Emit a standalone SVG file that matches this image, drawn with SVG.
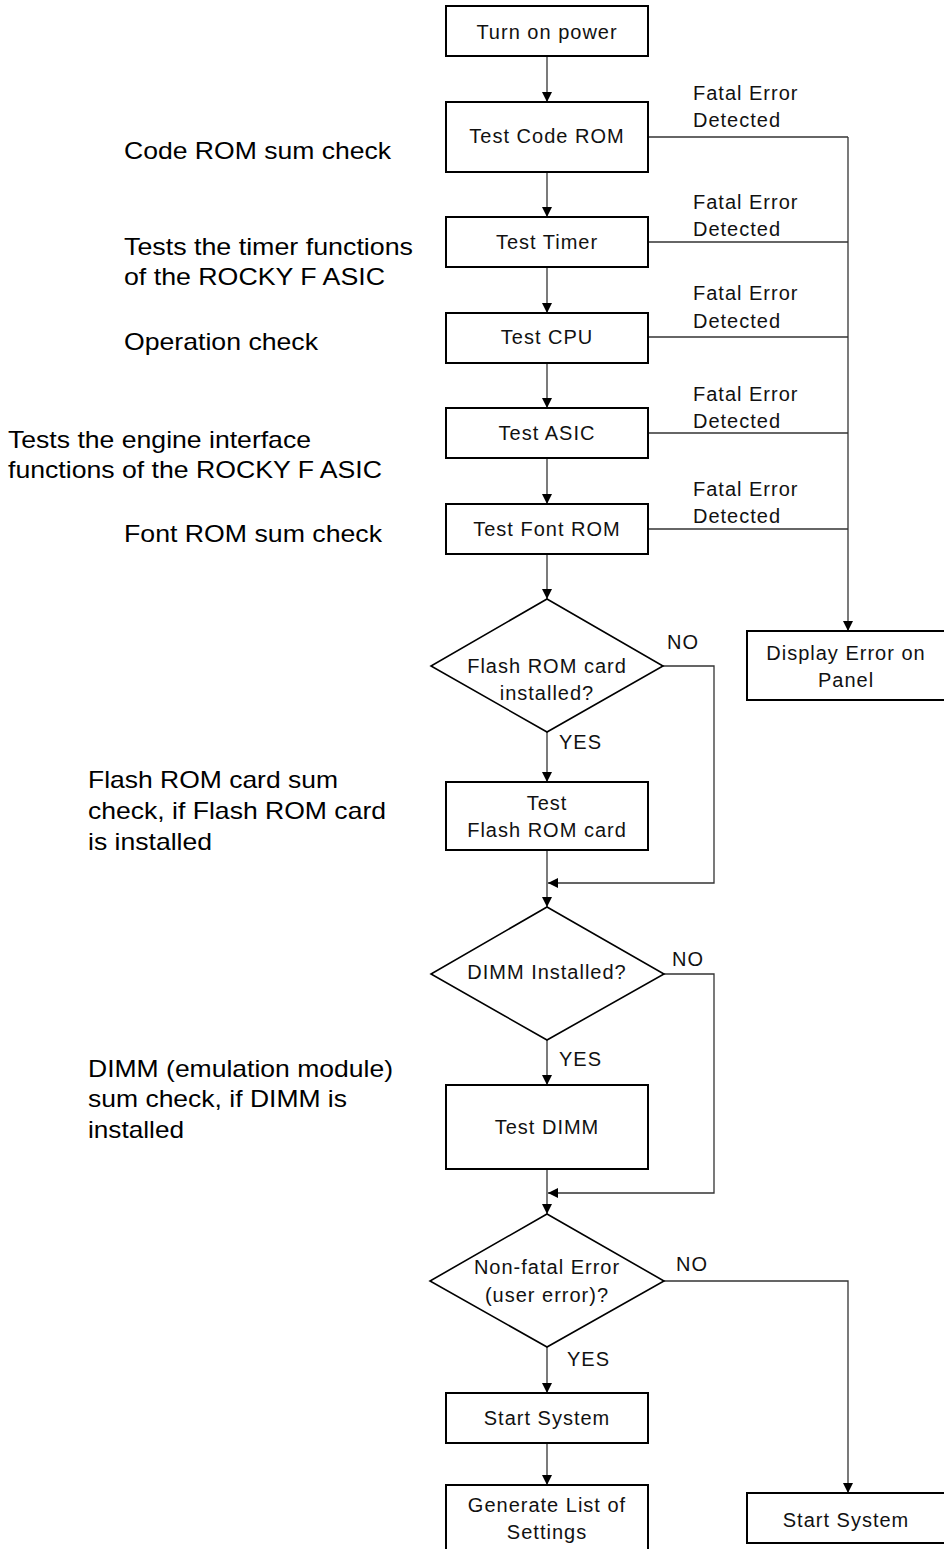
<svg xmlns="http://www.w3.org/2000/svg" width="944" height="1549" viewBox="0 0 944 1549">
<style>
.box{fill:#fff;stroke:#000;stroke-width:2}
.dia{fill:#fff;stroke:#000;stroke-width:1.6}
.t{font-family:"Liberation Sans",Arial,sans-serif;font-size:20px;letter-spacing:1px;fill:#111;text-anchor:middle}
.l{font-family:"Liberation Sans",Arial,sans-serif;font-size:20px;letter-spacing:1px;fill:#111}
.n{font-family:"Liberation Sans",Arial,sans-serif;font-size:24px;fill:#000}
.c{fill:none;stroke:#333;stroke-width:1.3}
</style>
<defs>
<marker id="ah" viewBox="0 0 10 10" refX="10" refY="5" markerWidth="10" markerHeight="10" markerUnits="userSpaceOnUse" orient="auto">
<path d="M0,0 L10,5 L0,10 z" fill="#000"/>
</marker>
</defs>
<rect width="944" height="1549" fill="#fff"/>
<g id="connectors">
<line class="c" x1="547" y1="56" x2="547" y2="102" marker-end="url(#ah)"/>
<line class="c" x1="547" y1="172" x2="547" y2="217" marker-end="url(#ah)"/>
<line class="c" x1="547" y1="267" x2="547" y2="313" marker-end="url(#ah)"/>
<line class="c" x1="547" y1="363" x2="547" y2="408" marker-end="url(#ah)"/>
<line class="c" x1="547" y1="458" x2="547" y2="504" marker-end="url(#ah)"/>
<line class="c" x1="547" y1="554" x2="547" y2="599" marker-end="url(#ah)"/>
<line class="c" x1="547" y1="732" x2="547" y2="782" marker-end="url(#ah)"/>
<line class="c" x1="547" y1="850" x2="547" y2="907" marker-end="url(#ah)"/>
<polyline class="c" points="663,666 714,666 714,883 548,883" marker-end="url(#ah)"/>
<line class="c" x1="547" y1="1040" x2="547" y2="1085" marker-end="url(#ah)"/>
<line class="c" x1="547" y1="1169" x2="547" y2="1214" marker-end="url(#ah)"/>
<polyline class="c" points="664,974 714,974 714,1193 548,1193" marker-end="url(#ah)"/>
<line class="c" x1="547" y1="1347" x2="547" y2="1393" marker-end="url(#ah)"/>
<line class="c" x1="547" y1="1443" x2="547" y2="1485" marker-end="url(#ah)"/>
<polyline class="c" points="664,1281 848,1281 848,1493" marker-end="url(#ah)"/>
<line class="c" x1="648" y1="137" x2="848" y2="137"/>
<line class="c" x1="648" y1="242" x2="848" y2="242"/>
<line class="c" x1="648" y1="337" x2="848" y2="337"/>
<line class="c" x1="648" y1="433" x2="848" y2="433"/>
<line class="c" x1="648" y1="529" x2="848" y2="529"/>
<line class="c" x1="848" y1="137" x2="848" y2="631" marker-end="url(#ah)"/>
<text class="l" x="693" y="100">Fatal Error</text>
<text class="l" x="693" y="127">Detected</text>
<text class="l" x="693" y="209">Fatal Error</text>
<text class="l" x="693" y="236">Detected</text>
<text class="l" x="693" y="300">Fatal Error</text>
<text class="l" x="693" y="328">Detected</text>
<text class="l" x="693" y="401">Fatal Error</text>
<text class="l" x="693" y="428">Detected</text>
<text class="l" x="693" y="496">Fatal Error</text>
<text class="l" x="693" y="523">Detected</text>
<text class="l" x="667" y="649">NO</text>
<text class="l" x="559" y="749">YES</text>
<text class="l" x="672" y="966">NO</text>
<text class="l" x="559" y="1066">YES</text>
<text class="l" x="676" y="1271">NO</text>
<text class="l" x="567" y="1366">YES</text>
</g>
<g id="n-power"><rect class="box" x="446" y="6" width="202" height="50"/><text class="t" x="547" y="39">Turn on power</text></g>
<g id="n-coderom"><rect class="box" x="446" y="102" width="202" height="70"/><text class="t" x="547" y="143">Test Code ROM</text></g>
<g id="n-timer"><rect class="box" x="446" y="217" width="202" height="50"/><text class="t" x="547" y="249">Test Timer</text></g>
<g id="n-cpu"><rect class="box" x="446" y="313" width="202" height="50"/><text class="t" x="547" y="344">Test CPU</text></g>
<g id="n-asic"><rect class="box" x="446" y="408" width="202" height="50"/><text class="t" x="547" y="440">Test ASIC</text></g>
<g id="n-fontrom"><rect class="box" x="446" y="504" width="202" height="50"/><text class="t" x="547" y="536">Test Font ROM</text></g>
<g id="n-flashq"><polygon class="dia" points="547,599 663,666 547,732 431,666"/><text class="t" x="547" y="673">Flash ROM card</text><text class="t" x="547" y="700">installed?</text></g>
<g id="n-flash"><rect class="box" x="446" y="782" width="202" height="68"/><text class="t" x="547" y="810">Test</text><text class="t" x="547" y="837">Flash ROM card</text></g>
<g id="n-dimmq"><polygon class="dia" points="547,907 664,974 547,1040 431,974"/><text class="t" x="547" y="979">DIMM Installed?</text></g>
<g id="n-dimm"><rect class="box" x="446" y="1085" width="202" height="84"/><text class="t" x="547" y="1134">Test DIMM</text></g>
<g id="n-nonfatal"><polygon class="dia" points="547,1214 664,1281 547,1347 430,1281"/><text class="t" x="547" y="1274">Non-fatal Error</text><text class="t" x="547" y="1302">(user error)?</text></g>
<g id="n-start1"><rect class="box" x="446" y="1393" width="202" height="50"/><text class="t" x="547" y="1425">Start System</text></g>
<g id="n-genlist"><rect class="box" x="446" y="1485" width="202" height="80"/><text class="t" x="547" y="1512">Generate List of</text><text class="t" x="547" y="1539">Settings</text></g>
<g id="n-display"><rect class="box" x="747" y="631" width="202" height="69"/><text class="t" x="846" y="660">Display Error on</text><text class="t" x="846" y="687">Panel</text></g>
<g id="n-start2"><rect class="box" x="747" y="1493" width="202" height="50"/><text class="t" x="846" y="1527">Start System</text></g>
<g id="notes">
<text class="n" x="124" y="159" textLength="267" lengthAdjust="spacingAndGlyphs">Code ROM sum check</text>
<text class="n" x="124" y="255" textLength="289" lengthAdjust="spacingAndGlyphs">Tests the timer functions</text>
<text class="n" x="124" y="285" textLength="261" lengthAdjust="spacingAndGlyphs">of the ROCKY F ASIC</text>
<text class="n" x="124" y="350" textLength="194" lengthAdjust="spacingAndGlyphs">Operation check</text>
<text class="n" x="8" y="448" textLength="303" lengthAdjust="spacingAndGlyphs">Tests the engine interface</text>
<text class="n" x="8" y="478" textLength="374" lengthAdjust="spacingAndGlyphs">functions of the ROCKY F ASIC</text>
<text class="n" x="124" y="542" textLength="258" lengthAdjust="spacingAndGlyphs">Font ROM sum check</text>
<text class="n" x="88" y="788" textLength="250" lengthAdjust="spacingAndGlyphs">Flash ROM card sum</text>
<text class="n" x="88" y="819" textLength="298" lengthAdjust="spacingAndGlyphs">check, if Flash ROM card</text>
<text class="n" x="88" y="850" textLength="124" lengthAdjust="spacingAndGlyphs">is installed</text>
<text class="n" x="88" y="1077" textLength="305" lengthAdjust="spacingAndGlyphs">DIMM (emulation module)</text>
<text class="n" x="88" y="1107" textLength="259" lengthAdjust="spacingAndGlyphs">sum check, if DIMM is</text>
<text class="n" x="88" y="1138" textLength="96" lengthAdjust="spacingAndGlyphs">installed</text>
</g>
</svg>
